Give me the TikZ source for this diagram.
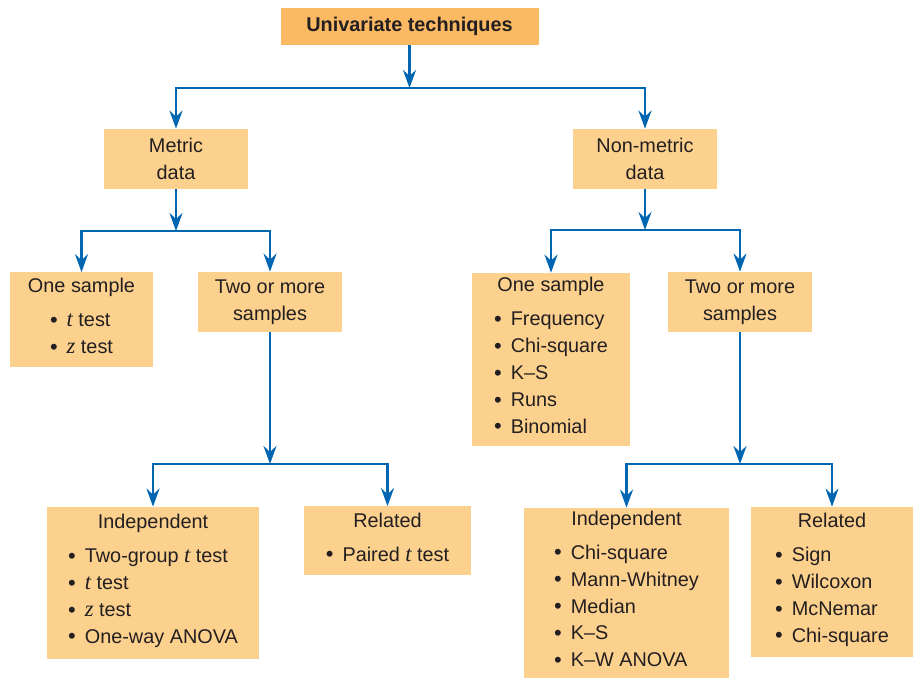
\documentclass[tikz,border=0pt]{standalone}
\usepackage{fontspec}
\setmainfont{Liberation Sans}
\newfontfamily\serifit{Liberation Serif}
\usetikzlibrary{arrows.meta}
\definecolor{topclr}{RGB}{250,185,98}
\definecolor{boxclr}{RGB}{252,209,142}
\definecolor{linkclr}{RGB}{0,102,178}
\definecolor{txtclr}{RGB}{35,31,32}
\newlength{\pxu}\setlength{\pxu}{0.02cm}
\newcommand{\blt}[1]{\makebox[9.5pt][l]{\raisebox{-0.3pt}{\fontsize{12.5}{12.5}\selectfont\textbullet}}#1}
\newcommand{\vr}[1]{{\serifit\itshape\fontsize{12.8}{15.3}\selectfont #1}}
\newcommand{\lst}[1]{\begin{tabular}[t]{@{}l@{}}#1\end{tabular}}
\tikzset{
    box/.style={rectangle,fill=boxclr,text=txtclr,align=center,inner sep=0pt,
                font=\fontsize{11.3}{15.3}\selectfont},
    topbox/.style={box,fill=topclr,font=\fontsize{11.3}{15.3}\selectfont\bfseries},
    sz/.style 2 args={minimum width=#1\pxu,minimum height=#2\pxu},
    link/.style={-{Stealth[length=3.6mm,width=2.6mm,inset=1.2mm]},line width=1.5pt,draw=linkclr},
}
\begin{document}
\begin{tikzpicture}[x=0.02cm,y=-0.02cm]
\useasboundingbox (0,0) rectangle (913,678);

\node[topbox,sz={258}{37}] (top) at (409.5,26.5) {Univariate techniques};

\node[box,sz={144}{60}] (met)  at (176,159) {Metric\\data};
\node[box,sz={144}{60}] (nmet) at (645,159) {Non-metric\\data};

\node[box,sz={143}{95}]  (oneL) at (81.5,320) {One sample\\[4pt]\lst{\blt{\vr{t} test}\\ \blt{\vr{z} test}}};
\node[box,sz={144}{60}]  (twoL) at (270,302) {Two or more\\samples};
\node[box,sz={158}{173}] (oneR) at (551,359.5) {One sample\\[4pt]\lst{\blt{Frequency}\\ \blt{Chi-square}\\ \blt{K--S}\\ \blt{Runs}\\ \blt{Binomial}}};
\node[box,sz={144}{60}]  (twoR) at (740,302) {Two or more\\samples};

\node[box,sz={212}{152}] (indL) at (153,583) {Independent\\[4pt]\lst{\blt{Two-group \vr{t} test}\\ \blt{\vr{t} test}\\ \blt{\vr{z} test}\\ \blt{One-way ANOVA}}};
\node[box,sz={167}{69}]  (relL) at (387.5,541) {Related\\[4pt]\lst{\blt{Paired \vr{t} test}}};
\node[box,sz={205}{170}] (indR) at (626.5,593) {Independent\\[4pt]\lst{\blt{Chi-square}\\ \blt{Mann-Whitney}\\ \blt{Median}\\ \blt{K--S}\\ \blt{K--W ANOVA}}};
\node[box,sz={162}{150}] (relR) at (832,582) {Related\\[4pt]\lst{\blt{Sign}\\ \blt{Wilcoxon}\\ \blt{McNemar}\\ \blt{Chi-square}}};

% split points
\coordinate (s0) at (409.5,88);
\coordinate (s1) at (176,231);
\coordinate (s2) at (270,464);
\coordinate (s3) at (645,230);
\coordinate (s4) at (740,464);

\draw[link] (top) -- (s0);
\draw[link] (s0) -| (met);
\draw[link] (s0) -| (nmet);

\draw[link] (met) -- (s1);
\draw[link] (s1) -| (oneL);
\draw[link] (s1) -| (twoL);
\draw[link] (twoL) -- (s2);
\draw[link] (s2) -| (indL);
\draw[link] (s2) -| (relL);

\draw[link] (nmet) -- (s3);
\draw[link] (s3) -| (oneR);
\draw[link] (s3) -| (twoR);
\draw[link] (twoR) -- (s4);
\draw[link] (s4) -| (indR);
\draw[link] (s4) -| (relR);
\end{tikzpicture}
\end{document}
